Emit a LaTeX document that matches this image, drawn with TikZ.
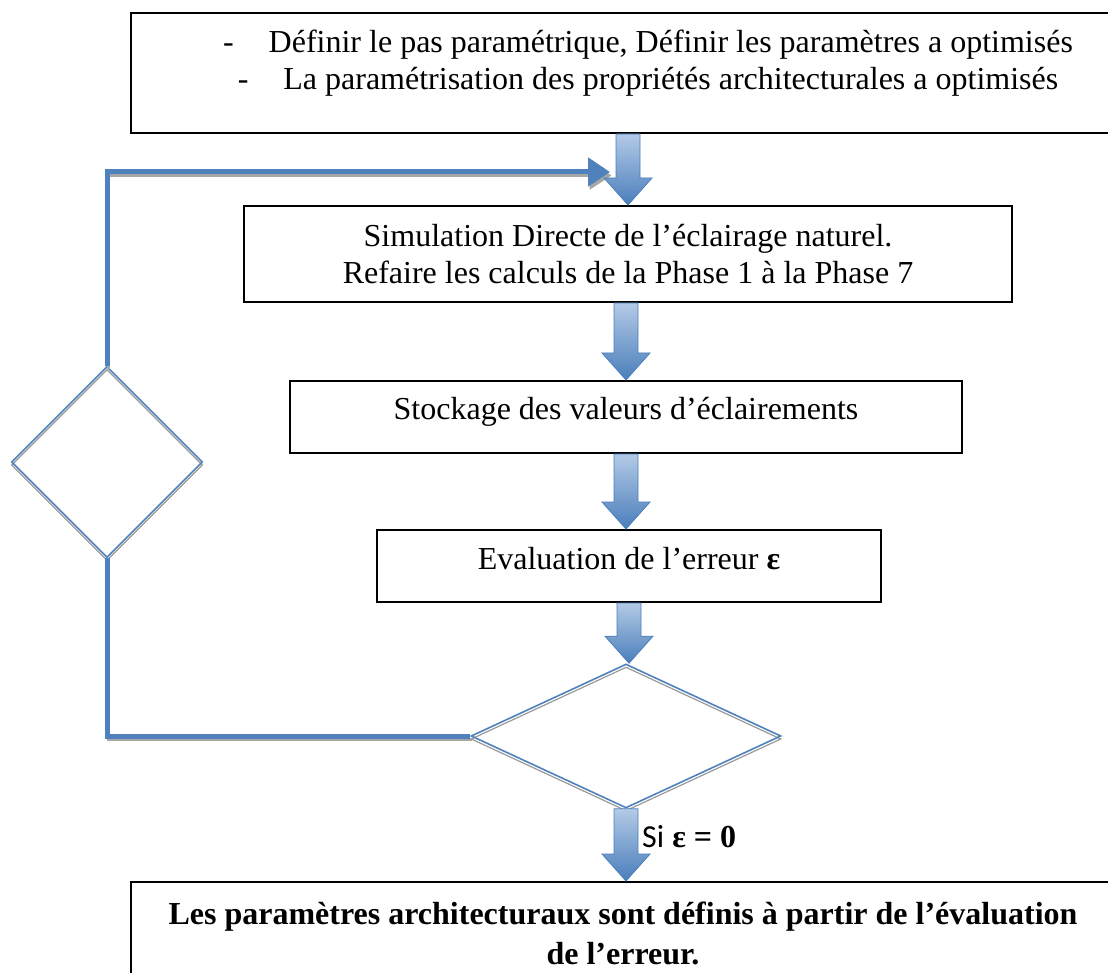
\documentclass[tikz,border=0pt]{standalone}
\usepackage{fontspec}
\setmainfont{Liberation Serif}
\newfontfamily\calibri{Carlito}
\usetikzlibrary{shapes.geometric, arrows.meta, calc}
\definecolor{officeblue}{HTML}{4F81BD}
\definecolor{arrowlight}{HTML}{B3CAE6}
\definecolor{arrowdark}{HTML}{4A7EBB}
\tikzset{
    box/.style={
        rectangle,
        draw=black,
        line width=2pt,
        minimum width=#1,
        font=\fontsize{32}{37}\selectfont,
        align=center
    },
    decision/.style={
        diamond,
        draw=officeblue,
        line width=1.6pt,
        inner sep=0pt,
        preaction={draw=black!40, line width=1.2pt, transform canvas={shift={(0pt,-3pt)}}}
    },
    loopline/.style={
        draw=officeblue,
        line width=5pt,
        preaction={draw=black!35, line width=3pt, transform canvas={shift={(1.5pt,-3.5pt)}}}
    }
}
% big shaded arrow between two boxes
\newcommand{\flowarrow}[2]{%
    \shade[top color=arrowlight, bottom color=arrowdark, draw=arrowdark, line width=0.8pt]
        let \p1=(#1), \p2=(#2) in
        (\x1-12pt,\y1) -- (\x1+12pt,\y1) -- (\x1+12pt,\y2+27pt) -- (\x1+24pt,\y2+27pt)
        -- (\x1,\y2) -- (\x1-24pt,\y2+27pt) -- (\x1-12pt,\y2+27pt) -- cycle;
}

\begin{document}
\begin{tikzpicture}[x=1pt, y=-1pt]
    \useasboundingbox (0,0) rectangle (1108,973);

    \node[box=1034pt, minimum height=120pt]                           (param)     at (648,73)  {};
    \node[font=\fontsize{32}{37}\selectfont, align=center]           (paramtext) at (648,63.5)
        {-\hspace{35pt}Définir le pas paramétrique, Définir les paramètres a optimisés\\
         -\hspace{35pt}La paramétrisation des propriétés architecturales a optimisés};
    \node[box=768pt, minimum height=96pt]                             (sim)       at (628,254)
        {Simulation Directe de l’éclairage naturel.\\Refaire les calculs de la Phase 1 à la Phase 7};
    \node[box=672pt, minimum height=72pt, text height=20pt, text depth=15pt] (stock) at (626,417)
        {Stockage des valeurs d’éclairements};
    \node[box=504pt, minimum height=72pt, text height=22pt, text depth=15pt] (eval)  at (629,566)
        {Evaluation de l’erreur \textbf{ε}};
    \node[decision, minimum width=310pt, minimum height=144pt]        (test)      at (626,736) {};
    \node[decision, minimum width=191pt, minimum height=191pt]        (loopdec)   at (107,462) {};
    \node[box=984pt, minimum height=102pt, font=\bfseries\fontsize{32}{40}\selectfont] (result) at (623,933)
        {Les paramètres architecturaux sont définis à partir de l’évaluation\\de l’erreur.};

    % loop back when the error is not zero
    \coordinate (loopin) at (610,172);
    \draw[loopline] (test.west) -| (loopdec.south);
    \draw[loopline, -{Triangle[length=22pt, width=28pt]}] (loopdec.north) |- (loopin);

    \flowarrow{param.south -| sim.north}{sim.north}
    \flowarrow{sim.south -| stock.north}{stock.north}
    \flowarrow{stock.south}{stock.south |- eval.north}
    \flowarrow{eval.south}{eval.south |- test.north}
    \flowarrow{test.south}{test.south |- result.north}

    \node[anchor=west, inner sep=0pt, font=\fontsize{32}{37}\selectfont] (cond) at (642,837)
        {{\calibri Si} \textbf{ε = 0}};
\end{tikzpicture}
\end{document}
